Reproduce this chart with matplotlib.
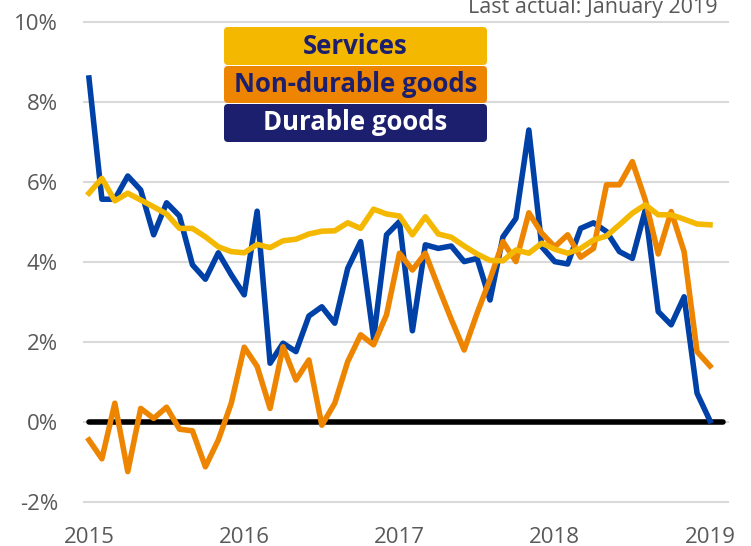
import matplotlib
matplotlib.use("Agg")
import matplotlib.pyplot as plt
from matplotlib.patches import FancyBboxPatch
from matplotlib.transforms import IdentityTransform
import numpy as np

plt.rcParams['font.family'] = ['Open Sans', 'DejaVu Sans']

# Monthly data, Jan 2015 .. Jan 2019 (49 months), % y/y
durable = [8.6, 5.57, 5.57, 6.15, 5.8, 4.68, 5.48, 5.15, 3.93, 3.57, 4.23, 3.68,
           3.18, 5.27, 1.47, 1.97, 1.76, 2.65, 2.88, 2.47, 3.84, 4.51, 2.09, 4.68,
           5.01, 2.28, 4.43, 4.34, 4.40, 4.01, 4.09, 3.05, 4.63, 5.09, 7.30, 4.38,
           4.01, 3.95, 4.84, 4.98, 4.76, 4.26, 4.09, 5.30, 2.76, 2.43, 3.13, 0.72, 0.03]
non_durable = [-0.45, -0.92, 0.47, -1.24, 0.34, 0.09, 0.37, -0.18, -0.22, -1.12, -0.45, 0.47,
               1.87, 1.39, 0.34, 1.88, 1.05, 1.55, -0.08, 0.47, 1.51, 2.18, 1.93, 2.68,
               4.22, 3.80, 4.22, 3.38, 2.57, 1.80, 2.72, 3.57, 4.51, 4.01, 5.23, 4.72,
               4.38, 4.68, 4.12, 4.34, 5.93, 5.93, 6.51, 5.55, 4.20, 5.26, 4.26, 1.76, 1.40]
services = [5.72, 6.09, 5.53, 5.72, 5.55, 5.38, 5.20, 4.84, 4.84, 4.63, 4.38, 4.26,
            4.23, 4.44, 4.36, 4.53, 4.57, 4.70, 4.77, 4.78, 4.98, 4.84, 5.32, 5.20,
            5.15, 4.68, 5.13, 4.70, 4.62, 4.40, 4.20, 4.04, 4.03, 4.30, 4.22, 4.47,
            4.32, 4.22, 4.34, 4.55, 4.65, 4.93, 5.22, 5.43, 5.18, 5.18, 5.07, 4.95, 4.93]
year_labels = ['2015', '2016', '2017', '2018', '2019']
y_ticks = [-2, 0, 2, 4, 6, 8, 10]
legend_labels = ['Services', 'Non-durable goods', 'Durable goods']

months = np.arange(len(durable))

BLUE = '#0041A8'
ORANGE = '#EE8500'
YELLOW = '#F5B800'
NAVY = '#1C1F6E'
GRAY_TXT = '#595959'

fig = plt.figure(figsize=(7.51, 5.46), dpi=100)
ax = fig.add_axes([83/751, 40/546, 646/751, 488/546])
ax.set_xlim(-0.46, 49.47)
ax.set_ylim(-2.1, 10.1)

for s in ax.spines.values():
    s.set_visible(False)

ax.set_yticks(y_ticks)
ax.set_yticklabels([f'{v}%' for v in y_ticks])
ax.set_xticks([0, 12, 24, 36, 48])
ax.set_xticklabels(year_labels)
ax.tick_params(axis='both', length=0, labelsize=16, colors=GRAY_TXT)
ax.tick_params(axis='y', pad=18)
ax.tick_params(axis='x', pad=15)
ax.yaxis.grid(True, color='#D9D9D9', linewidth=1.5)
ax.set_axisbelow(True)

ax.plot([0, 49.0], [0, 0], color='black', lw=4.0, solid_capstyle='round', zorder=2)
ax.plot(months, durable, color=BLUE, lw=4.0, zorder=3)
ax.plot(months, non_durable, color=ORANGE, lw=4.0, zorder=4)
ax.plot(months, services, color=YELLOW, lw=4.0, zorder=5)

# Legend boxes (pixel coordinates, origin bottom-left)
H = 546
boxes = [(27, 65), (66, 103), (104, 142)]
fcs = [YELLOW, ORANGE, NAVY]
tcs = [NAVY, NAVY, 'white']
x0, x1 = 224, 487
for (t, b), fc, tc, lab in zip(boxes, fcs, tcs, legend_labels):
    p = FancyBboxPatch((x0 + 4, H - b + 4), (x1 - x0) - 8, (b - t) - 8,
                       boxstyle='round,pad=4', transform=IdentityTransform(),
                       facecolor=fc, edgecolor='none', zorder=10)
    fig.patches.append(p)
    fig.text((x0 + x1) / 2 / 751, 1 - (t + b) / 2 / H, lab, ha='center', va='center',
             fontsize=18.5, fontweight='bold', color=tc, zorder=11)

fig.text(718/751, 1 - 13/546, 'Last actual: January 2019', ha='right', va='baseline',
         fontsize=15.5, color=GRAY_TXT)

fig.savefig('out.png', dpi=100)
